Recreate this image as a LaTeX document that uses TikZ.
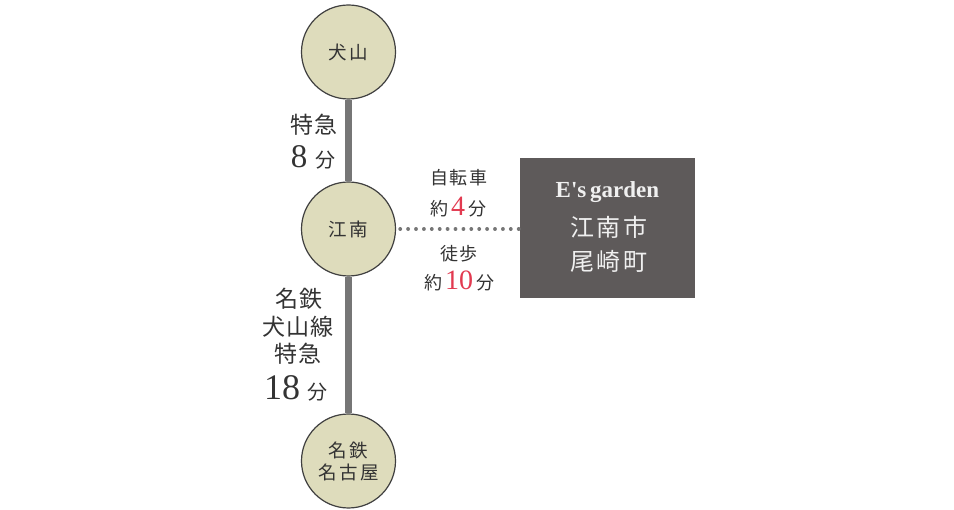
\documentclass[tikz,border=0pt]{standalone}
\usepackage{fontspec}
\setmainfont{Noto Sans CJK JP}
\newfontfamily\numfont{Liberation Serif}
\usepackage{tikz}
\usetikzlibrary{positioning}
\definecolor{station_fill}{HTML}{DEDCBC}
\definecolor{rail_gray}{HTML}{767676}
\definecolor{box_gray}{HTML}{5E5A5A}
\definecolor{time_red}{HTML}{E23A50}
\definecolor{label_gray}{HTML}{333333}

\begin{document}
\begin{tikzpicture}[x=1pt, y=-1pt,
        station/.style={circle, draw=black!75, line width=1.2pt, fill=station_fill, minimum size=94pt, inner sep=0pt, align=center, text=label_gray, font=\fontsize{18.5}{24}\selectfont\addfontfeature{LetterSpace=14}},
        homebox/.style={rectangle, fill=box_gray, minimum width=175pt, minimum height=140pt, inner sep=0pt},
        rail/.style={rail_gray, line width=7pt},
        walk/.style={rail_gray, line width=3.6pt, line cap=round, dash pattern=on 0.2pt off 7.7pt},
        lbl/.style={text=label_gray, inner sep=0pt, font=\fontsize{23}{26}\selectfont\addfontfeature{LetterSpace=6}},
        small/.style={text=label_gray, inner sep=0pt, font=\fontsize{18}{20}\selectfont\addfontfeature{LetterSpace=6}},
        white/.style={text=white!94!black, inner sep=0pt}]
                \useasboundingbox (0,0) rectangle (954,510);
                \node[station] (inuyama) at (348.5,52) {犬山};
                \node[station] (konan) at (348.5,229) {江南};
                \node[station] (nagoya) at (348.5,461) {名鉄\\[-2pt]名古屋};
                \node[homebox] (home) at (607.5,228) {};
                \draw[rail] (inuyama.south) -- (konan.north);
                \draw[rail] (konan.south) -- (nagoya.north);
                \draw[walk] ([xshift=4pt]konan.east) -- (konan.east -| home.west);

                \node[lbl] (exp1) at (314,125) {特急};
                \node[lbl] (time1) at (313,157) {{\numfont\fontsize{33}{33}\selectfont 8}\,\,{\fontsize{20}{20}\selectfont 分}};

                \node[small] (bike) at (459,178) {自転車};
                \node[small] (time2) at (458,207) {約\,{\numfont\fontsize{28}{28}\selectfont\color{time_red}4}\,分};
                \node[small] (foot) at (459,254) {徒歩};
                \node[small] (time3) at (459,281) {約\,{\numfont\fontsize{28}{28}\selectfont\color{time_red}10}\,分};

                \node[lbl] (line1) at (299,299) {名鉄};
                \node[lbl] (line2) at (298,327) {犬山線};
                \node[lbl] (line3) at (298,354) {特急};
                \node[lbl] (time4) at (296,388) {{\numfont\fontsize{36}{36}\selectfont 18}\,\,{\fontsize{20}{20}\selectfont 分}};

                \node[white, font=\numfont\bfseries\fontsize{23}{26}\selectfont] (brand) at (607.5,192) {E's\,garden};
                \node[white, font=\fontsize{24}{26}\selectfont\addfontfeature{LetterSpace=12}] (city) at (609,227) {江南市};
                \node[white, font=\fontsize{24}{26}\selectfont\addfontfeature{LetterSpace=12}] (town) at (609,261) {尾崎町};

            \end{tikzpicture}
\end{document}
